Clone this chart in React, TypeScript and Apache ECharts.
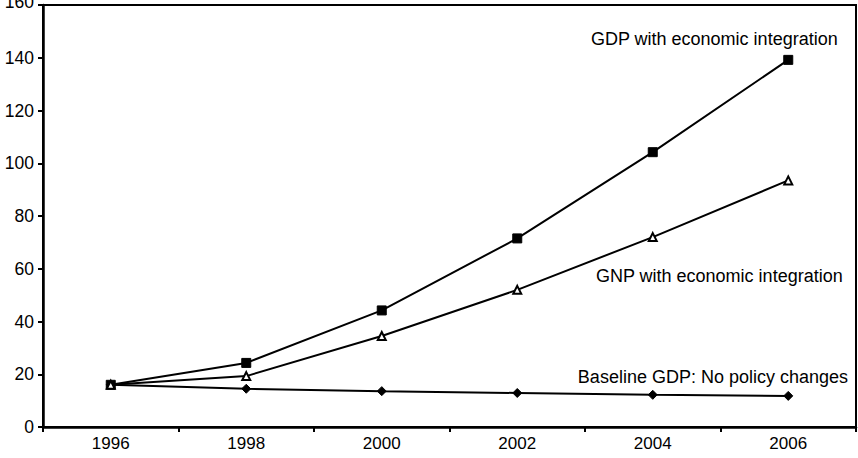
import React, { useEffect, useRef } from "react";
import * as echarts from "echarts";

const years = ["1996", "1998", "2000", "2002", "2004", "2006"];
const gdpIntegration = [16, 24.3, 44.2, 71.5, 104.2, 139.2];
const gnpIntegration = [16, 19.3, 34.5, 52, 72, 93.5];
const baselineGdp = [16, 14.5, 13.6, 12.9, 12.2, 11.8];
const seriesNames = [
  "GDP with economic integration",
  "GNP with economic integration",
  "Baseline GDP: No policy changes",
];

export default function App() {
  const ref = useRef<HTMLDivElement>(null);
  useEffect(() => {
    document.body.style.margin = "0";
    const chart = echarts.init(ref.current!, null, { renderer: "svg" });
    const font = "Liberation Sans, Arial, Helvetica, sans-serif";
    chart.setOption({
      animation: false,
      backgroundColor: "#ffffff",
      grid: {
        left: 43,
        right: 2,
        top: 5,
        bottom: 31,
        outerBoundsMode: "none",
        containLabel: false,
        show: true,
        borderColor: "#000",
        borderWidth: 2,
      },
      xAxis: {
        type: "category",
        data: years,
        boundaryGap: true,
        axisLine: { lineStyle: { color: "#000", width: 2.5 } },
        axisTick: { show: true, length: 5, inside: false, lineStyle: { color: "#000", width: 2 } },
        axisLabel: { color: "#000", fontSize: 17, fontFamily: font, margin: 8 },
      },
      yAxis: {
        type: "value",
        min: 0,
        max: 160,
        interval: 20,
        splitLine: { show: false },
        axisLine: { show: true, lineStyle: { color: "#000", width: 2.5 } },
        axisTick: { show: true, length: 5, lineStyle: { color: "#000", width: 2 } },
        axisLabel: {
          color: "#000",
          fontSize: 17.5,
          fontFamily: font,
          margin: 9,
          formatter: (v: number) => (v === 160 ? "{top|160}" : String(v)),
          rich: {
            top: { fontSize: 17.5, fontFamily: font, color: "#000", padding: [0, 0, 6, 0] },
          },
        },
      },
      series: [
        {
          name: seriesNames[0],
          type: "line",
          data: gdpIntegration,
          symbol: "rect",
          symbolSize: 9,
          lineStyle: { color: "#000", width: 2 },
          itemStyle: { color: "#000", borderColor: "#000" },
          z: 3,
        },
        {
          name: seriesNames[1],
          type: "line",
          data: gnpIntegration,
          symbol: "triangle",
          symbolSize: 8,
          lineStyle: { color: "#000", width: 2 },
          itemStyle: { color: "#fff", borderColor: "#000", borderWidth: 2 },
          z: 4,
        },
        {
          name: seriesNames[2],
          type: "line",
          data: baselineGdp,
          symbol: "diamond",
          symbolSize: 9,
          lineStyle: { color: "#000", width: 2 },
          itemStyle: { color: "#000", borderColor: "#000" },
          z: 2,
        },
      ],
      graphic: [
        {
          type: "text",
          right: 20,
          top: 30,
          style: { text: seriesNames[0], fill: "#000", fontSize: 18, fontFamily: font },
        },
        {
          type: "text",
          right: 15,
          top: 267,
          style: { text: seriesNames[1], fill: "#000", fontSize: 18, fontFamily: font },
        },
        {
          type: "text",
          right: 10,
          top: 368,
          style: { text: seriesNames[2], fill: "#000", fontSize: 18, fontFamily: font },
        },
      ],
    });
    return () => chart.dispose();
  }, []);
  return <div ref={ref} style={{ width: 858, height: 458 }} />;
}
